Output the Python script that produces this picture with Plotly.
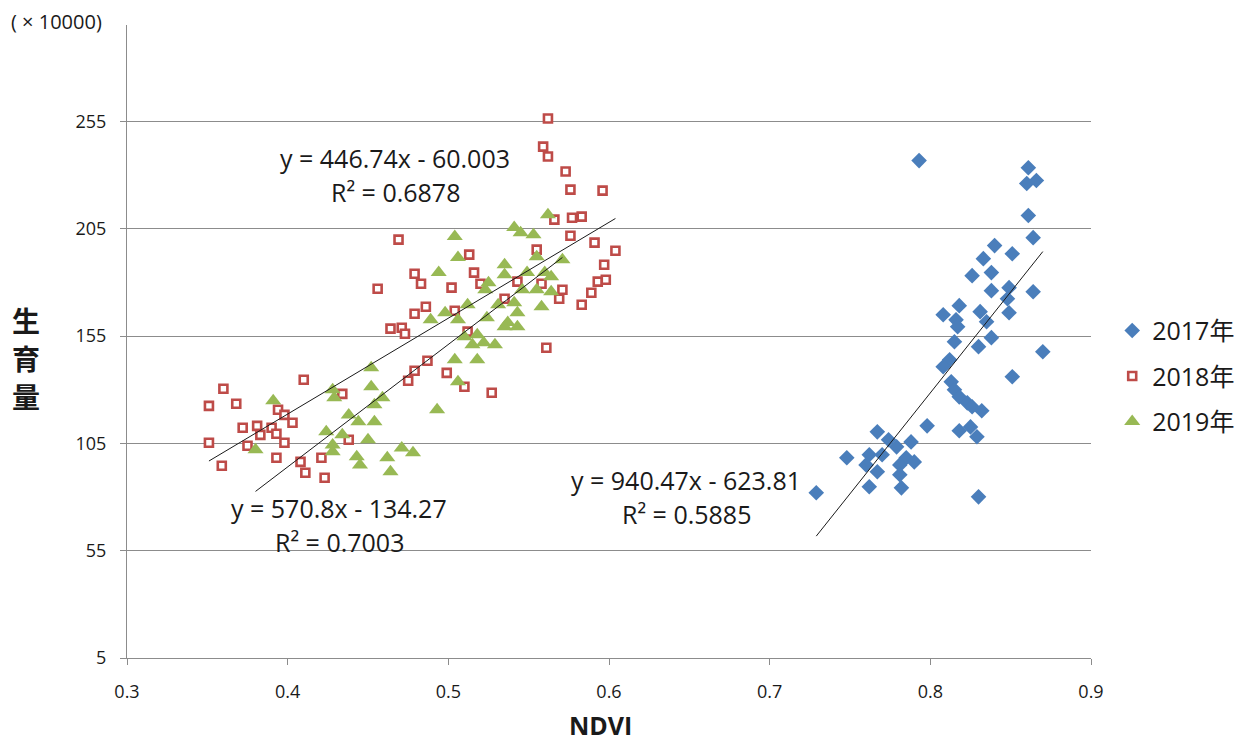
import numpy as np
import plotly.graph_objects as go

# NDVI vs. 生育量 (×10000) for three seasons
ndvi_2017 = [0.793, 0.861, 0.866, 0.860, 0.861, 0.864, 0.840, 0.851, 0.833, 0.838,
             0.826, 0.864, 0.838, 0.849, 0.848, 0.849, 0.808, 0.818, 0.831, 0.816,
             0.817, 0.835, 0.815, 0.830, 0.838, 0.870, 0.812, 0.808, 0.851, 0.813,
             0.815, 0.818, 0.823, 0.826, 0.832, 0.798, 0.818, 0.825, 0.829, 0.767,
             0.774, 0.779, 0.788, 0.762, 0.748, 0.770, 0.785, 0.790, 0.760, 0.781,
             0.767, 0.781, 0.762, 0.782, 0.729, 0.830]
yield_2017 = [236.8, 233.5, 227.5, 226.1, 211.2, 200.9, 197.2, 193.4, 191.1, 184.6,
              183.2, 175.7, 176.2, 177.6, 172.4, 165.9, 165.0, 169.2, 166.4, 162.6,
              159.4, 161.7, 152.4, 150.1, 154.3, 147.7, 144.0, 140.7, 136.1, 133.7,
              130.0, 126.7, 123.9, 122.1, 120.2, 113.2, 110.9, 112.7, 108.1, 110.4,
              106.7, 103.4, 105.7, 99.7, 98.3, 99.7, 98.3, 96.4, 95.0, 95.0,
              91.8, 90.4, 84.8, 84.3, 82.0, 80.1]

ndvi_2018 = [0.562, 0.559, 0.562, 0.573, 0.576, 0.596, 0.566, 0.577, 0.583, 0.576,
             0.469, 0.591, 0.604, 0.555, 0.513, 0.597, 0.516, 0.479, 0.483, 0.502,
             0.520, 0.543, 0.571, 0.593, 0.598, 0.589, 0.569, 0.583, 0.535, 0.558,
             0.486, 0.479, 0.504, 0.456, 0.464, 0.471, 0.473, 0.487, 0.479, 0.475,
             0.410, 0.360, 0.351, 0.368, 0.394, 0.398, 0.403, 0.434, 0.372, 0.381,
             0.390, 0.383, 0.393, 0.398, 0.375, 0.351, 0.438, 0.393, 0.408, 0.421,
             0.359, 0.411, 0.423, 0.561, 0.499, 0.510, 0.527, 0.512]
yield_2018 = [256.4, 243.3, 238.7, 231.7, 223.3, 222.8, 209.3, 210.2, 210.7, 201.8,
              200.0, 198.6, 194.8, 195.3, 193.0, 188.3, 184.6, 184.1, 179.4, 177.6,
              179.4, 180.4, 176.6, 180.4, 181.3, 175.2, 172.4, 169.6, 172.4, 179.4,
              168.7, 165.4, 166.8, 177.1, 158.5, 158.9, 156.1, 143.5, 138.9, 134.2,
              134.7, 130.5, 122.5, 123.5, 120.7, 118.3, 114.6, 128.1, 112.3, 113.2,
              112.3, 109.0, 109.5, 105.3, 103.9, 105.3, 106.7, 98.3, 96.4, 98.3,
              94.6, 91.3, 89.0, 149.6, 137.9, 131.4, 128.6, 157.1]

ndvi_2019 = [0.562, 0.541, 0.545, 0.553, 0.504, 0.506, 0.555, 0.571, 0.535, 0.494,
             0.535, 0.525, 0.549, 0.560, 0.564, 0.523, 0.546, 0.555, 0.564, 0.512,
             0.531, 0.541, 0.558, 0.543, 0.524, 0.498, 0.489, 0.506, 0.537, 0.535,
             0.543, 0.518, 0.510, 0.522, 0.529, 0.515, 0.518, 0.504, 0.506, 0.493,
             0.452, 0.452, 0.428, 0.429, 0.459, 0.454, 0.438, 0.444, 0.454, 0.424,
             0.434, 0.450, 0.428, 0.428, 0.471, 0.478, 0.443, 0.445, 0.462, 0.464,
             0.391, 0.380]
yield_2019 = [211.6, 205.6, 203.2, 202.3, 201.4, 191.6, 192.0, 190.6, 188.3, 184.6,
              183.6, 179.9, 184.6, 184.6, 182.7, 176.6, 176.6, 176.6, 175.7, 169.6,
              169.6, 170.6, 168.7, 165.9, 163.6, 165.9, 162.6, 162.6, 161.3, 159.4,
              159.4, 155.7, 154.7, 151.9, 151.0, 151.0, 144.0, 144.0, 133.7, 120.7,
              140.3, 131.4, 130.0, 126.3, 126.3, 123.0, 118.3, 115.1, 115.1, 110.4,
              109.0, 106.7, 104.3, 101.1, 102.9, 100.6, 98.8, 95.0, 98.3, 91.8,
              124.9, 102.0]

# Linear trend lines: slope, intercept, R² and the printed equation
fits = {
    "2017": (940.47, -623.81, 0.5885, "y = 940.47x - 623.81"),
    "2018": (446.74, -60.003, 0.6878, "y = 446.74x - 60.003"),
    "2019": (570.8, -134.27, 0.7003, "y = 570.8x - 134.27"),
}

y_ticks = [5, 55, 105, 155, 205, 255]

FONT = "Open Sans, Noto Sans CJK JP, sans-serif"
TEXT = "#1a1a1a"
GRID = "#8c8c8c"

fig = go.Figure()

fig.add_trace(go.Scatter(
    x=ndvi_2017, y=yield_2017, mode="markers", name="2017年",
    legendgroup="a",
    marker=dict(symbol="diamond", size=12, color="#4a7ebb",
                line=dict(width=0)),
))
fig.add_trace(go.Scatter(
    x=ndvi_2018, y=yield_2018, mode="markers", name="2018年",
    legendgroup="b",
    marker=dict(symbol="square", size=8, color="white",
                line=dict(width=2.6, color="#be4b48")),
))
fig.add_trace(go.Scatter(
    x=ndvi_2019, y=yield_2019, mode="markers", name="2019年",
    legendgroup="c",
    marker=dict(symbol="triangle-up", size=14, color="#98b954",
                line=dict(width=0)),
))

# Trend lines over each season's NDVI span
for year, xs in (("2018", ndvi_2018), ("2019", ndvi_2019), ("2017", ndvi_2017)):
    slope, intercept, _, _ = fits[year]
    xl = np.array([min(xs), max(xs)])
    fig.add_trace(go.Scatter(
        x=xl, y=slope * xl + intercept, mode="lines", showlegend=False,
        hoverinfo="skip", line=dict(color=TEXT, width=1),
    ))

# Equation labels (x, y of first line, y of second line)
eq_pos = {
    "2018": (0.467, 238.2, 222.3),
    "2019": (0.432, 75.0, 59.1),
    "2017": (0.648, 88.0, 72.2),
}
for year, (ex, ey1, ey2) in eq_pos.items():
    _, _, r2, eq_text = fits[year]
    for txt, yy in ((eq_text, ey1), (f"R² = {r2:.4f}", ey2)):
        fig.add_annotation(x=ex, y=yy, xref="x", yref="y", text=txt,
                           showarrow=False, xanchor="center", yanchor="middle",
                           font=dict(family=FONT, size=25, color=TEXT))

# Unit note above the y axis
fig.add_annotation(x=-0.122, y=1.005, xref="paper", yref="paper",
                   text="( × 10000)", showarrow=False, xanchor="left",
                   yanchor="middle",
                   font=dict(family=FONT, size=20, color=TEXT))

# Vertical y-axis title, one character per row
for ch, py in (("生", 0.534), ("育", 0.474), ("量", 0.414)):
    fig.add_annotation(x=-0.105, y=py, xref="paper", yref="paper",
                       text=f"<b>{ch}</b>", showarrow=False,
                       xanchor="center", yanchor="middle",
                       font=dict(family="Noto Sans CJK JP, sans-serif",
                                 size=28, color=TEXT))

# x-axis title
fig.add_annotation(x=0.4907, y=-0.106, xref="paper", yref="paper",
                   text="<b>NDVI</b>", showarrow=False,
                   xanchor="center", yanchor="middle",
                   font=dict(family=FONT, size=25, color=TEXT))

fig.update_layout(
    width=1242, height=742,
    margin=dict(l=127, r=151, t=25, b=84, autoexpand=False),
    paper_bgcolor="white", plot_bgcolor="white",
    font=dict(family=FONT, color=TEXT),
    showlegend=True,
    legend=dict(x=1.022, y=0.445, xanchor="left", yanchor="middle",
                font=dict(family=FONT, size=25, color=TEXT),
                tracegroupgap=10, itemwidth=30, bgcolor="rgba(0,0,0,0)"),
    xaxis=dict(
        range=[0.3, 0.9], dtick=0.1, tick0=0.3, tickformat=".1f",
        showgrid=False, zeroline=False,
        showline=True, linecolor=GRID, linewidth=1,
        ticks="outside", ticklen=6, tickcolor=GRID,
        tickfont=dict(family=FONT, size=18, color=TEXT),
        ticklabelstandoff=11,
    ),
    yaxis=dict(
        range=[5, 300], tickmode="array", tickvals=y_ticks,
        ticktext=[str(v) for v in y_ticks],
        showgrid=True, gridcolor=GRID, gridwidth=1, zeroline=False,
        showline=True, linecolor=GRID, linewidth=1,
        ticks="outside", ticklen=6, tickcolor=GRID,
        tickfont=dict(family=FONT, size=18, color=TEXT),
        ticklabelstandoff=10,
    ),
)

fig.write_html("out.html")
